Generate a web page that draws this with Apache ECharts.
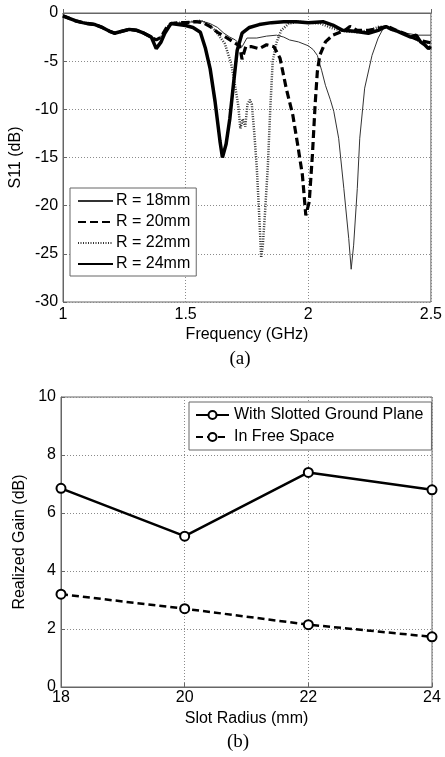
<!DOCTYPE html>
<html>
<head>
<meta charset="utf-8">
<title>S11 and Realized Gain</title>
<script src="https://cdn.jsdelivr.net/npm/echarts@6/dist/echarts.min.js"></script>
<style>
	html,body{margin:0;padding:0;background:#fff}
	#main{width:445px;height:757px}
</style>
</head>
<body>
<div id="main"></div>
<script>
// (a) S11 curves, [frequency GHz, S11 dB]
var commonStart = [[1.0,-0.3],[1.02,-0.5],[1.05,-0.8],[1.08,-1.0],[1.1,-1.1],[1.13,-1.2],[1.16,-1.5],[1.19,-1.9],[1.21,-2.1],[1.24,-1.9],[1.27,-1.7],[1.3,-1.8],[1.33,-2.1],[1.36,-2.5]];
var r18 = commonStart.concat([[1.38,-2.8],[1.4,-2.5],[1.42,-1.6],[1.44,-1.1],[1.47,-1.0],[1.5,-1.0],[1.53,-0.9],[1.56,-0.8],[1.6,-1.1],[1.63,-1.5],[1.656,-2.1],[1.68,-2.5],[1.703,-2.8],[1.73,-3.5],[1.75,-2.6],[1.79,-2.6],[1.83,-2.4],[1.87,-2.3],[1.9,-2.5],[1.924,-2.8],[1.96,-3.0],[2.0,-3.4],[2.02,-3.8],[2.037,-4.4],[2.055,-6.0],[2.07,-7.5],[2.09,-9.0],[2.104,-10.2],[2.124,-13.0],[2.145,-18.2],[2.165,-23.4],[2.175,-26.6],[2.185,-24.1],[2.2,-18.2],[2.21,-13.0],[2.23,-7.8],[2.26,-4.4],[2.285,-2.6],[2.31,-1.4],[2.34,-1.7],[2.365,-1.9],[2.4,-2.1],[2.446,-2.3],[2.5,-2.3]]);
var r20 = commonStart.concat([[1.38,-2.8],[1.4,-2.5],[1.42,-1.6],[1.44,-1.1],[1.47,-1.0],[1.5,-1.0],[1.54,-0.9],[1.57,-1.0],[1.6,-1.4],[1.63,-2.0],[1.67,-2.6],[1.7,-3.1],[1.72,-3.4],[1.73,-4.8],[1.745,-3.5],[1.77,-3.5],[1.8,-3.7],[1.83,-3.3],[1.86,-3.5],[1.885,-4.7],[1.91,-7.8],[1.937,-10.6],[1.957,-13.7],[1.976,-16.8],[1.99,-21.0],[2.004,-19.6],[2.017,-14.7],[2.028,-9.5],[2.037,-6.1],[2.047,-4.4],[2.07,-3.0],[2.1,-2.3],[2.15,-1.8],[2.17,-1.4],[2.2,-1.8],[2.245,-1.8],[2.285,-1.6],[2.325,-1.4],[2.36,-1.8],[2.39,-2.1],[2.42,-2.5],[2.45,-2.8],[2.5,-3.1]]);
var r22 = commonStart.concat([[1.38,-2.8],[1.4,-2.5],[1.42,-1.6],[1.44,-1.1],[1.47,-1.0],[1.5,-1.0],[1.53,-0.9],[1.56,-0.8],[1.59,-1.1],[1.62,-1.8],[1.66,-3.2],[1.685,-5.2],[1.7,-7.3],[1.715,-9.7],[1.723,-12.0],[1.733,-11.0],[1.743,-11.8],[1.752,-9.5],[1.762,-9.0],[1.77,-9.5],[1.78,-12.5],[1.79,-16.0],[1.8,-21.0],[1.808,-25.4],[1.815,-24.0],[1.823,-21.0],[1.835,-16.0],[1.845,-10.0],[1.855,-5.0],[1.87,-3.1],[1.89,-1.8],[1.92,-1.1],[1.96,-0.9],[2.0,-1.0],[2.05,-1.1],[2.1,-1.6],[2.15,-1.9],[2.2,-2.0],[2.25,-1.8],[2.29,-1.4],[2.32,-1.5],[2.36,-1.9],[2.4,-2.2],[2.44,-2.7],[2.47,-3.2],[2.5,-3.0]]);
var r24 = commonStart.concat([[1.38,-3.7],[1.4,-3.0],[1.415,-2.1],[1.44,-1.1],[1.47,-1.2],[1.5,-1.3],[1.53,-1.5],[1.56,-2.0],[1.58,-3.6],[1.6,-5.8],[1.62,-9.2],[1.64,-13.3],[1.65,-15.0],[1.665,-13.6],[1.68,-11.0],[1.695,-7.4],[1.71,-3.9],[1.73,-2.1],[1.76,-1.5],[1.8,-1.2],[1.85,-1.0],[1.9,-0.9],[1.95,-0.9],[2.0,-1.0],[2.06,-0.9],[2.1,-1.25],[2.14,-1.8],[2.19,-1.9],[2.245,-2.1],[2.285,-1.8],[2.317,-1.4],[2.34,-1.7],[2.365,-1.9],[2.39,-2.2],[2.418,-2.5],[2.44,-2.3],[2.458,-3.0],[2.475,-3.3],[2.49,-3.7],[2.5,-3.5]]);
var freqTicks = [1, 1.5, 2, 2.5];

// (b) realized gain vs slot radius
var slotRadius = [18, 20, 22, 24];
var gainSlotted = [6.85, 5.2, 7.4, 6.8];
var gainFree = [3.2, 2.7, 2.15, 1.73];

var font = 'Liberation Sans, Arial, sans-serif';
var gridLine = {show: true, lineStyle: {color: '#8a8a8a', width: 1, type: [1, 2]}};
var axLine = {show: true, lineStyle: {color: '#666', width: 1}};
var axTick = {show: true, inside: true, length: 4, lineStyle: {color: '#666'}};
var lbl = {color: '#000', fontSize: 16, fontFamily: font};

function pairs(xs, ys){
	return xs.map(function(x, i){ return [x, ys[i]]; });
}

var chart = echarts.init(document.getElementById('main'), null, {renderer: 'canvas'});
chart.setOption({
	animation: false,
	backgroundColor: '#fff',
	grid: [
		{left: 60, top: 13, width: 373, height: 289, show: true, borderColor: '#666', borderWidth: 1},
		{left: 61, top: 397, width: 371, height: 290, show: true, borderColor: '#666', borderWidth: 1}
	],
	xAxis: [
		{gridIndex: 0, type: 'value', min: freqTicks[0], max: freqTicks[freqTicks.length - 1], interval: 0.5,
			name: 'Frequency (GHz)', nameLocation: 'middle', nameGap: 25, nameTextStyle: lbl,
			axisLine: axLine, axisTick: axTick, splitLine: gridLine,
			axisLabel: {color: '#000', fontSize: 16, fontFamily: font, margin: 5}},
		{gridIndex: 1, type: 'value', min: slotRadius[0], max: slotRadius[slotRadius.length - 1], interval: 2,
			name: 'Slot Radius (mm)', nameLocation: 'middle', nameGap: 24, nameTextStyle: lbl,
			axisLine: axLine, axisTick: axTick, splitLine: gridLine,
			axisLabel: {color: '#000', fontSize: 16, fontFamily: font, margin: 3}}
	],
	yAxis: [
		{gridIndex: 0, type: 'value', min: -30, max: 0, interval: 5,
			name: 'S11 (dB)', nameLocation: 'middle', nameGap: 26, nameTextStyle: lbl,
			axisLine: axLine, axisTick: axTick, splitLine: gridLine,
			axisLabel: {color: '#000', fontSize: 16, fontFamily: font, margin: 5}},
		{gridIndex: 1, type: 'value', min: 0, max: 10, interval: 2,
			name: 'Realized Gain (dB)', nameLocation: 'middle', nameGap: 17, nameTextStyle: lbl,
			axisLine: axLine, axisTick: axTick, splitLine: gridLine,
			axisLabel: {color: '#000', fontSize: 16, fontFamily: font, margin: 5}}
	],
	legend: [
		{orient: 'vertical', left: 70, top: 188, padding: [5, 6, 4, 7], itemGap: 5, itemWidth: 35, itemHeight: 16,
			backgroundColor: '#fff', borderColor: '#666', borderWidth: 1,
			itemStyle: {opacity: 0},
			textStyle: {color: '#000', fontSize: 16, fontFamily: font, padding: [0, 0, 0, -2]},
			data: ['R = 18mm', 'R = 20mm', 'R = 22mm', 'R = 24mm']},
		{orient: 'vertical', left: 189, top: 402, padding: [4, 8, 4, 6], itemGap: 4, itemWidth: 33, itemHeight: 10,
			backgroundColor: '#fff', borderColor: '#666', borderWidth: 1,
			textStyle: {color: '#000', fontSize: 16, fontFamily: font, lineHeight: 18},
			data: ['With Slotted Ground Plane', 'In Free Space']}
	],
	series: [
		{name: 'R = 18mm', type: 'line', xAxisIndex: 0, yAxisIndex: 0, data: r18, showSymbol: false, symbol: 'none',
			lineStyle: {color: '#333', width: 1}},
		{name: 'R = 22mm', type: 'line', xAxisIndex: 0, yAxisIndex: 0, data: r22, showSymbol: false, symbol: 'none',
			lineStyle: {color: '#333', width: 2.5, type: [1, 1.5]}},
		{name: 'R = 20mm', type: 'line', xAxisIndex: 0, yAxisIndex: 0, data: r20, showSymbol: false, symbol: 'none',
			lineStyle: {color: '#000', width: 3.2, type: [8, 4]}},
		{name: 'R = 24mm', type: 'line', xAxisIndex: 0, yAxisIndex: 0, data: r24, showSymbol: false, symbol: 'none',
			lineStyle: {color: '#000', width: 3.5}},
		{name: 'With Slotted Ground Plane', type: 'line', xAxisIndex: 1, yAxisIndex: 1, data: pairs(slotRadius, gainSlotted),
			symbol: 'emptyCircle', symbolSize: 9, lineStyle: {color: '#000', width: 2.5},
			itemStyle: {color: '#000', borderColor: '#000', borderWidth: 2.5}},
		{name: 'In Free Space', type: 'line', xAxisIndex: 1, yAxisIndex: 1, data: pairs(slotRadius, gainFree),
			symbol: 'emptyCircle', symbolSize: 9, lineStyle: {color: '#000', width: 2.5, type: [7, 4]},
			itemStyle: {color: '#000', borderColor: '#000', borderWidth: 2.5}}
	],
	graphic: [
		{type: 'text', x: 240, y: 359, style: {text: '(a)', fill: '#000', font: '19px "Liberation Serif", serif', textAlign: 'center', textVerticalAlign: 'middle'}},
		{type: 'text', x: 238, y: 742, style: {text: '(b)', fill: '#000', font: '19px "Liberation Serif", serif', textAlign: 'center', textVerticalAlign: 'middle'}}
	]
});
</script>
</body>
</html>
